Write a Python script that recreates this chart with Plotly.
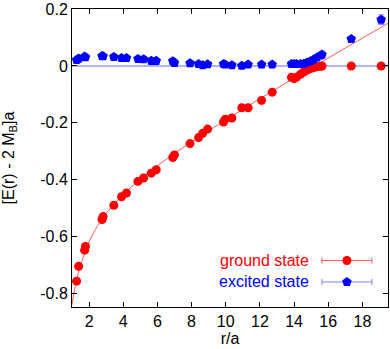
import plotly.graph_objects as go

# ground state (red) and excited state (blue) energies vs r/a
r = [1.27, 1.39, 1.74, 1.79, 2.76, 2.82, 3.45, 3.90, 4.19, 4.86, 5.19, 5.64, 5.93,
     6.90, 7.00, 7.91, 8.41, 8.65, 8.94, 9.87, 9.97, 10.36, 10.94, 11.31, 12.10,
     12.72, 13.85, 14.00, 14.14, 14.38, 14.57, 14.76, 14.96, 15.15, 15.34, 15.54,
     15.64, 17.35, 19.10]
e_ground = [-0.757, -0.705, -0.648, -0.635, -0.540, -0.530, -0.490, -0.460, -0.447,
            -0.406, -0.394, -0.377, -0.365, -0.322, -0.313, -0.273, -0.252, -0.237,
            -0.222, -0.197, -0.187, -0.183, -0.147, -0.147, -0.121, -0.092, -0.040,
            -0.044, -0.040, -0.029, -0.021, -0.014, -0.009, -0.006, -0.003, -0.001,
            0.000, 0.000, 0.000]
e_excited = [0.021, 0.026, 0.033, 0.031, 0.035, 0.034, 0.032, 0.028, 0.028, 0.025,
             0.024, 0.018, 0.018, 0.017, 0.011, 0.010, 0.007, 0.003, 0.006, 0.007,
             0.005, 0.003, 0.001, 0.005, 0.005, 0.005, 0.007, 0.007, 0.007, 0.007,
             0.008, 0.012, 0.017, 0.023, 0.030, 0.037, 0.040, 0.095, 0.163]
err_excited = [0.002] * 37 + [0.008, 0.017]

# fit curve
r_fit = [1.0, 1.25, 1.5, 2.0, 2.5, 3.0, 4.0, 5.0, 6.0, 8.0, 10.0, 12.0, 14.0, 16.0, 18.0, 19.5]
e_fit = [-0.840, -0.758, -0.702, -0.619, -0.562, -0.519, -0.452, -0.398, -0.351,
         -0.267, -0.190, -0.115, -0.043, 0.028, 0.098, 0.150]

# threshold 2 M_B
r_thr = [1.0, 19.5]
e_thr = [0.0, 0.0]

x_ticks = [2, 4, 6, 8, 10, 12, 14, 16, 18]
y_ticks = [0.2, 0.0, -0.2, -0.4, -0.6, -0.8]
y_labels = ["0.2", "0", "-0.2", "-0.4", "-0.6", "-0.8"]

RED = "#ff0000"
BLUE = "#0000ff"
FONT = "Liberation Sans, Arial, sans-serif"

fig = go.Figure()
fig.add_trace(go.Scatter(x=r_fit, y=e_fit, mode="lines", line_shape="spline",
                         line=dict(color="#ff5a5a", width=1), hoverinfo="skip"))
fig.add_trace(go.Scatter(x=r_thr, y=e_thr, mode="lines",
                         line=dict(color="#5a6aff", width=1), hoverinfo="skip"))
fig.add_trace(go.Scatter(x=r, y=e_ground, mode="markers",
                         marker=dict(symbol="circle", size=9, color=RED)))
fig.add_trace(go.Scatter(x=r, y=e_excited, mode="markers",
                         marker=dict(symbol="pentagon", size=10, color=BLUE),
                         error_y=dict(type="data", array=err_excited, color="#8080ff",
                                      thickness=1, width=3)))

# legend keys drawn on an overlay axis (0..1 of the plot area)
key_x = 0.87
key_half = 0.079
key_y = [0.156, 0.084]
fig.add_trace(go.Scatter(x=[key_x], y=[key_y[0]], xaxis="x2", yaxis="y2", mode="markers",
                         marker=dict(symbol="circle", size=9, color=RED),
                         error_x=dict(type="data", array=[key_half], color="#ff5a5a",
                                      thickness=1, width=3)))
fig.add_trace(go.Scatter(x=[key_x], y=[key_y[1]], xaxis="x2", yaxis="y2", mode="markers",
                         marker=dict(symbol="pentagon", size=10, color=BLUE),
                         error_x=dict(type="data", array=[key_half], color="#8080ff",
                                      thickness=1, width=3)))

for txt, yy, col in [("ground state", key_y[0], RED), ("excited state", key_y[1], BLUE)]:
    fig.add_annotation(text=txt, xref="paper", yref="paper", x=0.756, y=yy,
                       xanchor="right", yanchor="middle", showarrow=False,
                       font=dict(family=FONT, size=16, color=col))

axis_style = dict(showline=True, linecolor="black", linewidth=1, mirror="ticks",
                  ticks="inside", ticklen=5, tickcolor="black", showgrid=False,
                  zeroline=False, tickfont=dict(family=FONT, size=16, color="black"))

fig.update_layout(
    width=390, height=349,
    margin=dict(l=72, r=1, t=6, b=42),
    paper_bgcolor="white", plot_bgcolor="white",
    showlegend=False,
    xaxis=dict(range=[1, 19.5], tickvals=x_ticks,
               title=dict(text="r/a", font=dict(family=FONT, size=16, color="black"),
                          standoff=2),
               **axis_style),
    yaxis=dict(range=[-0.848, 0.2005], tickvals=y_ticks, ticktext=y_labels,
               ticklabeloverflow="allow",
               title=dict(text="[E(r) - 2 M<sub>B</sub>]a",
                          font=dict(family=FONT, size=16, color="black"), standoff=21),
               **axis_style),
    xaxis2=dict(overlaying="x", range=[0, 1], visible=False),
    yaxis2=dict(overlaying="y", range=[0, 1], visible=False),
)

fig.write_html("out.html", config={"displayModeBar": False},
               post_script="document.body.style.margin='0';")
